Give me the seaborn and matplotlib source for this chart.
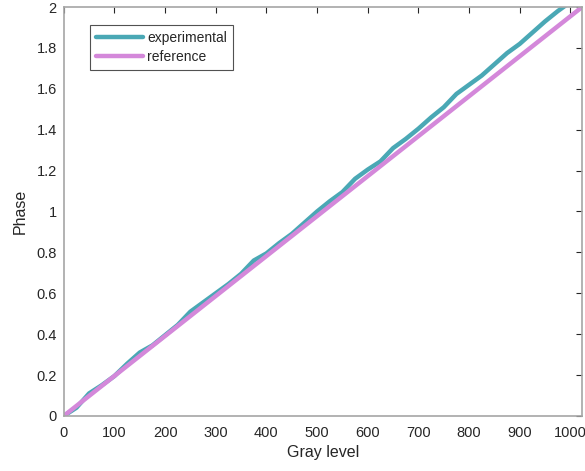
import numpy as np
import pandas as pd
import seaborn as sns
from matplotlib import pyplot as plt

gray_exp = [0, 25, 50, 75, 100, 125, 150, 175, 200, 225, 250, 275, 300, 325, 350,
            375, 400, 425, 450, 475, 500, 525, 550, 575, 600, 625, 650, 675, 700,
            725, 750, 775, 800, 825, 850, 875, 900, 925, 950, 975, 1000]
phase_exp = [0.0, 0.04, 0.11, 0.15, 0.195, 0.255, 0.31, 0.345, 0.395, 0.445, 0.51,
             0.555, 0.60, 0.645, 0.695, 0.76, 0.795, 0.845, 0.89, 0.945, 1.0, 1.05,
             1.095, 1.16, 1.205, 1.245, 1.31, 1.355, 1.405, 1.46, 1.51, 1.575, 1.62,
             1.665, 1.72, 1.775, 1.82, 1.875, 1.93, 1.98, 2.025]

# ideal linear response
gray_ref = [0, 1023]
phase_ref = [0, 2]

x_ticks = list(range(0, 1001, 100))
y_ticks = [0, 0.2, 0.4, 0.6, 0.8, 1, 1.2, 1.4, 1.6, 1.8, 2]
y_labels = ['0', '0.2', '0.4', '0.6', '0.8', '1', '1.2', '1.4', '1.6', '1.8', '2']

df = pd.concat([
    pd.DataFrame({'gray': gray_exp, 'phase': phase_exp, 'series': 'experimental'}),
    pd.DataFrame({'gray': gray_ref, 'phase': phase_ref, 'series': 'reference'}),
])

sns.set_style('white')
plt.rcParams['font.family'] = ['Liberation Sans', 'DejaVu Sans']

fig = plt.figure(figsize=(5.85, 4.71), dpi=100)
ax = fig.add_axes([0.109, 0.117, 0.886, 0.868])

sns.lineplot(data=df, x='gray', y='phase', hue='series',
             palette={'experimental': '#4aa8b5', 'reference': '#d488da'},
             linewidth=3.2, ax=ax, sort=False, estimator=None)

ax.set_xlim(0, 1023)
ax.set_ylim(0, 2)
ax.set_xticks(x_ticks)
ax.set_yticks(y_ticks)
ax.set_yticklabels(y_labels)
ax.tick_params(direction='in', length=4, width=0.8, colors='#262626',
               labelsize=10.5, top=True, right=True)
ax.tick_params(axis='x', pad=7)
ax.tick_params(axis='y', pad=5)
for s in ax.spines.values():
    s.set_visible(True)
    s.set_color('#a6a6a6')
    s.set_linewidth(1.2)

ax.set_xlabel('Gray level', fontsize=11.5, color='#262626', labelpad=4)
ax.set_ylabel('Phase', fontsize=11.5, color='#262626', labelpad=6)

leg = ax.legend(loc='upper left', bbox_to_anchor=(0.05, 0.956), fontsize=10,
                handlelength=3.4, frameon=True, fancybox=False, borderpad=0.42,
                labelspacing=0.38, handletextpad=0.3, borderaxespad=0)
leg.get_frame().set_edgecolor('#262626')
leg.get_frame().set_linewidth(0.8)
for line in leg.get_lines():
    line.set_linewidth(3.2)

fig.savefig('out.png', dpi=100)
